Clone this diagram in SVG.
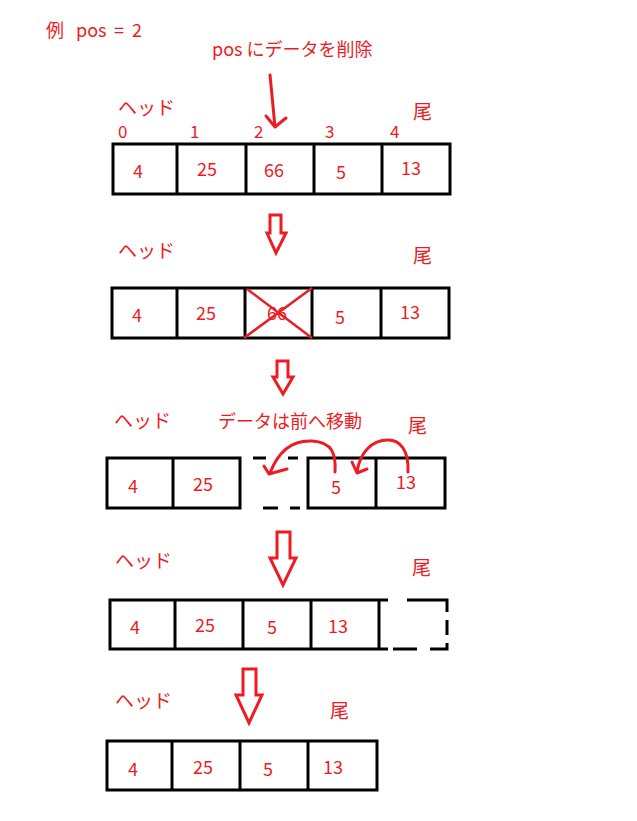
<svg xmlns="http://www.w3.org/2000/svg" width="637" height="821" viewBox="0 0 637 821">
<style>
.t{font-family:"Noto Sans CJK JP","Noto Sans",sans-serif;fill:#ED1C24}
.j{font-size:19px}
.l{font-size:18px}
.n{font-size:18px;text-anchor:middle}
.i{font-size:17px}
.box{fill:none;stroke:#000;stroke-width:3}
.red{fill:none;stroke:#ED1C24;stroke-width:3;stroke-linecap:round;stroke-linejoin:round}
.hol{fill:#fff;stroke:#ED1C24;stroke-width:3}
</style>
<rect width="637" height="821" fill="#fff"/>
<g id="title">
<text class="t l" x="46" y="37"><tspan>例</tspan><tspan x="76">pos</tspan><tspan x="114">=</tspan><tspan x="132">2</tspan></text>
<text class="t l" x="212" y="56">pos にデータを削除</text>
</g>
<g id="row1">
<text class="t j" x="118" y="115">ヘッド</text>
<text class="t j" x="413" y="119">尾</text>
<text class="t i" x="118" y="138">0</text>
<text class="t i" x="190" y="138">1</text>
<text class="t i" x="254" y="138">2</text>
<text class="t i" x="325" y="138">3</text>
<text class="t i" x="390" y="138">4</text>
<rect class="box" x="113" y="144" width="337" height="50"/>
<path class="box" d="M177,144V194M246,144V194M314,144V194M382,144V194"/>
<text class="t n" x="138" y="178">4</text>
<text class="t n" x="207" y="176">25</text>
<text class="t n" x="274" y="177">66</text>
<text class="t n" x="341" y="179">5</text>
<text class="t n" x="411" y="175">13</text>
</g>
<g id="row2">
<text class="t j" x="118" y="258">ヘッド</text>
<text class="t j" x="413" y="263">尾</text>
<rect class="box" x="112" y="288" width="337" height="50"/>
<path class="box" d="M177,288V338M245,288V338M312,288V338M381,288V338"/>
<text class="t n" x="137" y="322">4</text>
<text class="t n" x="206" y="320">25</text>
<text class="t n" x="277" y="320">66</text>
<text class="t n" x="340" y="324">5</text>
<text class="t n" x="410" y="319">13</text>
<path d="M247,289L312,338M312,288L244,338" stroke="#ED1C24" stroke-width="2.5" fill="none"/>
</g>
<g id="row3">
<text class="t j" x="114" y="428">ヘッド</text>
<text class="t l" x="218" y="428">データは前へ移動</text>
<text class="t j" x="408" y="433">尾</text>
<path class="box" d="M240,458H107V508H240ZM173,458V508"/>
<path class="box" d="M253,458H266M288,458H298M263,508H278M290,508H300"/>
<rect class="box" x="308" y="458" width="137" height="50"/>
<path class="box" d="M376,458V508"/>
<text class="t n" x="133" y="493">4</text>
<text class="t n" x="203" y="491">25</text>
<text class="t n" x="336" y="494">5</text>
<text class="t n" x="406" y="489">13</text>
</g>
<g id="row4">
<text class="t j" x="115" y="568">ヘッド</text>
<text class="t j" x="412" y="575">尾</text>
<path class="box" d="M388,600H110V649H388M175,600V649M243,600V649M311,600V649M379,600V649"/>
<path class="box" d="M407,600H447V612M447,620V635M447,643V649H430M417,649H393"/>
<text class="t n" x="135" y="634">4</text>
<text class="t n" x="205" y="632">25</text>
<text class="t n" x="272" y="634">5</text>
<text class="t n" x="338" y="633">13</text>
</g>
<g id="row5">
<text class="t j" x="115" y="708">ヘッド</text>
<text class="t j" x="330" y="718">尾</text>
<rect class="box" x="107" y="741" width="270" height="49"/>
<path class="box" d="M172,741V790M240,741V790M308,741V790"/>
<text class="t n" x="133" y="776">4</text>
<text class="t n" x="203" y="774">25</text>
<text class="t n" x="268" y="776">5</text>
<text class="t n" x="333" y="774">13</text>
</g>
<g id="connectors">
<path class="red" d="M270,75L275,127M266,116L275,127L286,118"/>
<polygon class="hol" points="270,215 281,215 281,233 286,233 276,253 267,233 270,233"/>
<polygon class="hol" points="277,361 288,361 288,377 293,377 283,394 273,377 277,377"/>
<polygon class="hol" points="277,532 290,532 290,558 296,558 283,585 270,558 277,558"/>
<polygon class="hol" points="243,669 256,669 256,695 262,695 249,723 236,695 243,695"/>
<path class="red" d="M335,472C336,455 333,442 312,441C292,440 278,452 270,473M264,466L269,474L287,469"/>
<path class="red" d="M408,472C409,450 400,440 388,440C372,440 360,452 357,472M352,462L357,473L367,469"/>
</g>
</svg>
